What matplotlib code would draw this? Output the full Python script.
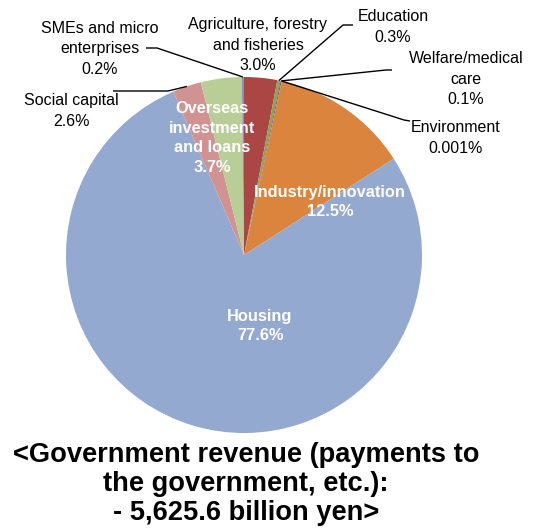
import matplotlib

matplotlib.use("Agg")
import matplotlib.pyplot as plt
import numpy as np

plt.rcParams["font.family"] = ["Liberation Sans", "DejaVu Sans"]

# Shares of government revenue by field, clockwise from 12 o'clock
categories = [
    "Agriculture, forestry\nand fisheries",
    "Education",
    "Welfare/medical\ncare",
    "Environment",
    "Industry/innovation",
    "Housing",
    "Social capital",
    "Overseas\ninvestment\nand loans",
    "SMEs and micro\nenterprises",
]
shares = [3.0, 0.3, 0.1, 0.001, 12.5, 77.6, 2.6, 3.7, 0.2]
share_labels = ["3.0%", "0.3%", "0.1%", "0.001%", "12.5%", "77.6%", "2.6%", "3.7%", "0.2%"]
colors = ["#AA4643", "#89A54E", "#71588F", "#4198AF", "#DB843D",
          "#93A9CF", "#D19392", "#B9CD96", "#7F94C0"]
title = "<Government revenue (payments to\nthe government, etc.):\n- 5,625.6 billion yen>"

W, H = 534, 529
fig = plt.figure(figsize=(W / 100, H / 100), dpi=100)
ax = fig.add_axes([0, 0, 1, 1])


def px(x, y):
    # pixel position (origin top-left) -> data coords
    return x, H - y


cx, cy = px(244, 255)
R = 178
wedges, _ = ax.pie(shares, colors=colors, startangle=90, counterclock=False,
                   center=(cx, cy), radius=R)
ax.set_xlim(0, W)
ax.set_ylim(0, H)
ax.set_aspect("equal")
ax.axis("off")


def edge_point(w):
    ang = np.deg2rad((w.theta1 + w.theta2) / 2)
    return cx + R * np.cos(ang), cy + R * np.sin(ang)


# labels drawn inside their wedge (white, bold)
inside = {7: (212, 138), 4: (330, 202), 5: (260, 326)}
for i, (x, y) in inside.items():
    ax.text(*px(x, y), f"{categories[i]}\n{share_labels[i]}", ha="center", va="center",
            color="white", fontsize=11.8, fontweight="bold", linespacing=1.4)

# outside labels: text center, leader start, leader elbow
outside = {
    0: ((258, 45), None, None),
    1: ((393, 27), (353, 25), (343, 25)),
    2: ((466, 79), (392, 70), (386, 70)),
    3: ((456, 138), (410, 121), (404, 120)),
    6: ((71, 111), (113, 91), (168, 91)),
    8: ((100, 49), (146, 48), (157, 48)),
}
for i, (pos, start, elbow) in outside.items():
    ax.text(*px(*pos), f"{categories[i]}\n{share_labels[i]}", ha="center", va="center",
            color="black", fontsize=11.5, linespacing=1.45)
    if start is not None:
        ex, ey = edge_point(wedges[i])
        xs = [px(*start)[0], px(*elbow)[0], ex]
        ys = [px(*start)[1], px(*elbow)[1], ey]
        ax.plot(xs, ys, color="black", lw=1.0, solid_capstyle="butt")

ax.text(*px(246, 484), title, ha="center", va="center", fontsize=19.6,
        fontweight="bold", linespacing=1.17)

fig.savefig("out.png", dpi=100)
